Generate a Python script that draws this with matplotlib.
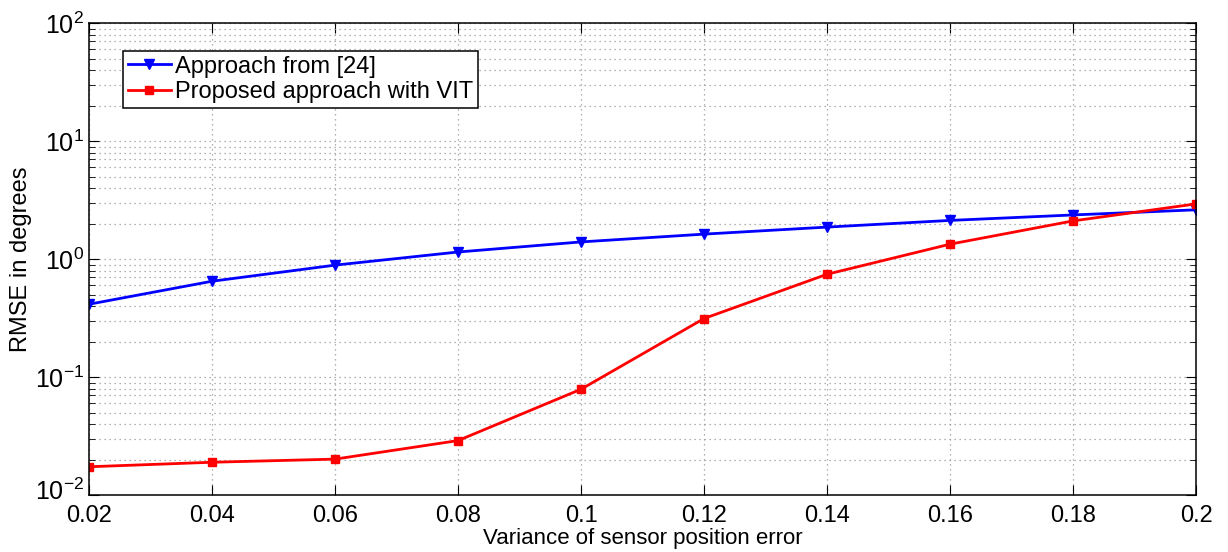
import matplotlib
matplotlib.use("Agg")
import numpy as np
import matplotlib.pyplot as plt
import matplotlib.transforms as mtransforms
from matplotlib.ticker import LogLocator, NullFormatter

plt.rcParams['font.family'] = ['Liberation Sans', 'DejaVu Sans']
plt.rcParams['mathtext.fontset'] = 'custom'
plt.rcParams['mathtext.rm'] = 'Liberation Sans'

variance = [0.02, 0.04, 0.06, 0.08, 0.10, 0.12, 0.14, 0.16, 0.18, 0.20]
rmse_ref24 = [0.415, 0.65, 0.89, 1.15, 1.40, 1.63, 1.87, 2.13, 2.37, 2.62]
rmse_vit = [0.0174, 0.0190, 0.0202, 0.029, 0.079, 0.314, 0.745, 1.34, 2.11, 2.94]
y_decades = [1e-2, 1e-1, 1e0, 1e1, 1e2]
y_decade_labels = ['$10^{-2}$', '$10^{-1}$', '$10^{0}$', '$10^{1}$', '$10^{2}$']

fig = plt.figure(figsize=(12.28, 5.52), dpi=100)
ax = fig.add_axes([0.0725, 0.103, 0.9015, 0.855])

ax.semilogy(variance, rmse_ref24, '-v', color='blue', lw=2, markersize=7,
            label='Approach from [24]')
ax.semilogy(variance, rmse_vit, '-s', color='red', lw=2, markersize=6,
            label='Proposed approach with VIT')

ax.set_xlim(0.02, 0.2)
ax.set_ylim(1e-2, 1e2)
ax.set_xticks(variance)
ax.set_xticklabels(['0.02', '0.04', '0.06', '0.08', '0.1', '0.12', '0.14', '0.16', '0.18', '0.2'])
ax.set_yticks(y_decades)
ax.set_yticklabels(y_decade_labels)
ax.yaxis.set_minor_locator(LogLocator(base=10, subs=np.arange(2, 10), numticks=20))
ax.yaxis.set_minor_formatter(NullFormatter())

ax.grid(True, which='major', ls=(0, (1, 3)), color='#999999', lw=0.9)
ax.grid(True, which='minor', axis='y', ls=(0, (1, 3)), color='#999999', lw=0.9)
ax.tick_params(which='both', direction='in', top=True, right=True, labelsize=18)
ax.tick_params(axis='x', labelsize=17, pad=7)
ax.tick_params(which='major', length=7)
ax.tick_params(which='minor', length=4)
for s in ax.spines.values():
    s.set_linewidth(1.1)

# nudge the bottom y label up a little so it clears the first x label
fig.canvas.draw()
lowest = ax.yaxis.get_major_ticks()[0].label1
lowest.set_transform(lowest.get_transform() +
                     mtransforms.ScaledTranslation(0, 4 / 72, fig.dpi_scale_trans))

ax.set_xlabel('Variance of sensor position error', fontsize=16, labelpad=1)
ax.set_ylabel('RMSE in degrees', fontsize=17, labelpad=2)

leg = ax.legend(loc='upper left', bbox_to_anchor=(0.031, 0.941), fontsize=17,
                fancybox=False, framealpha=1, edgecolor='black',
                handlelength=1.8, handletextpad=0.2, borderpad=0.2,
                labelspacing=0.15, borderaxespad=0)
leg.get_frame().set_linewidth(1.1)

fig.savefig('out.png', dpi=100)
